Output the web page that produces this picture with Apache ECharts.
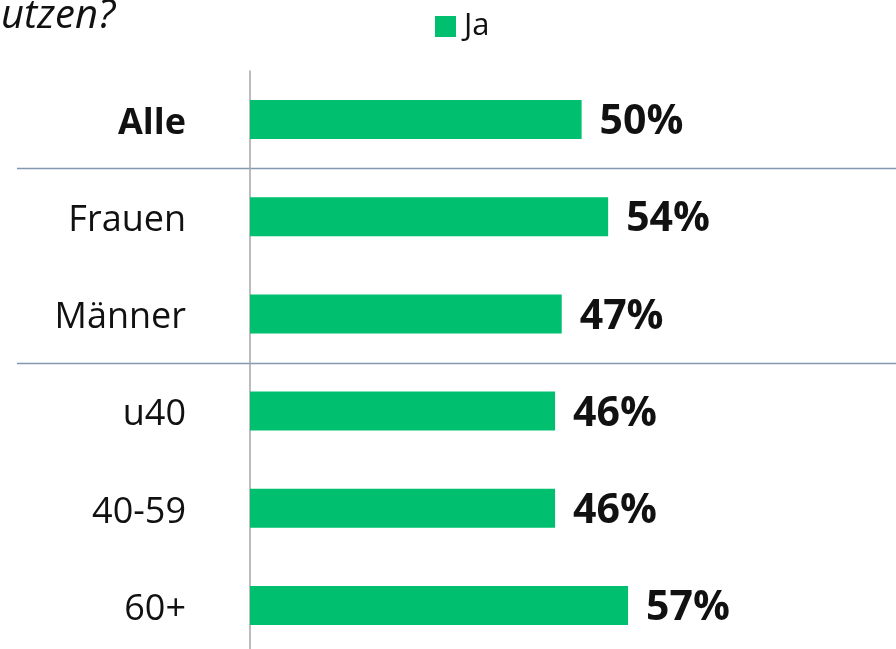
<!DOCTYPE html>
<html>
<head>
<meta charset="utf-8">
<title>Ja</title>
<script src="https://cdn.jsdelivr.net/npm/echarts@6/dist/echarts.min.js"></script>
<style>
  html, body { margin: 0; padding: 0; background: #fff; }
  #chart { width: 896px; height: 649px; }
</style>
</head>
<body>
<div id="chart"></div>
<script>
// Daten
var categories = ['Alle', 'Frauen', 'Männer', 'u40', '40-59', '60+'];
var values = [50, 54, 47, 46, 46, 57];
var seriesName = 'Ja';
var titleText = 'utzen?';
// Trennlinien nach diesen Gruppen
var separatorAfter = ['Alle', 'Männer'];

var green = '#00bf6f';
var font = '"Open Sans", "Noto Sans", sans-serif';

var chart = echarts.init(document.getElementById('chart'));

var option = {
  animation: false,
  title: {
    text: titleText,
    left: -4,
    top: -8,
    textStyle: {
      fontFamily: font,
      fontStyle: 'italic',
      fontWeight: 'normal',
      fontSize: 40,
      color: '#111'
    }
  },
  legend: {
    data: [seriesName],
    left: 435,
    top: 11,
    padding: 0,
    icon: 'rect',
    itemWidth: 21,
    itemHeight: 21,
    textStyle: {
      fontFamily: font,
      fontSize: 31,
      color: '#111',
      padding: [0, 0, 0, 3]
    }
  },
  grid: {
    left: 250,
    right: 0,
    top: 71,
    bottom: -5,
    containLabel: false,
    outerBoundsMode: 'none'
  },
  xAxis: {
    type: 'value',
    min: 0,
    max: 97.4,
    show: false
  },
  yAxis: {
    type: 'category',
    inverse: true,
    data: categories,
    axisLine: { show: true, lineStyle: { color: '#a6a6a6', width: 1.5 } },
    axisTick: { show: false },
    splitLine: { show: false },
    axisLabel: {
      margin: 64,
      fontFamily: font,
      fontSize: 36,
      color: '#111',
      padding: [8, 0, 0, 0],
      formatter: function (v) {
        return v == 'Alle' ? '{b|' + v + '}' : v;
      },
      rich: {
        b: { fontFamily: font, fontSize: 36, fontWeight: 'bold', color: '#111' }
      }
    }
  },
  series: [
    {
      name: seriesName,
      type: 'bar',
      data: values,
      barWidth: 39,
      itemStyle: { color: green },
      label: {
        show: true,
        position: 'right',
        distance: 18,
        offset: [0, 3],
        formatter: '{c}%',
        fontFamily: font,
        fontSize: 41,
        fontWeight: 'bold',
        color: '#111'
      }
    }
  ]
};
chart.setOption(option);

// Trennlinien zwischen den Gruppen
var lines = [];
for (var i = 0; i < separatorAfter.length; i++) {
  var idx = categories.indexOf(separatorAfter[i]);
  var y1 = chart.convertToPixel({ yAxisIndex: 0 }, categories[idx]);
  var y2 = chart.convertToPixel({ yAxisIndex: 0 }, categories[idx + 1]);
  var y = Math.round((y1 + y2) / 2) + 0.5;
  lines.push({
    type: 'line',
    silent: true,
    shape: { x1: 17, y1: y, x2: chart.getWidth(), y2: y },
    style: { stroke: '#8497b0', lineWidth: 1.5 }
  });
}
chart.setOption({ graphic: lines });
</script>
</body>
</html>
